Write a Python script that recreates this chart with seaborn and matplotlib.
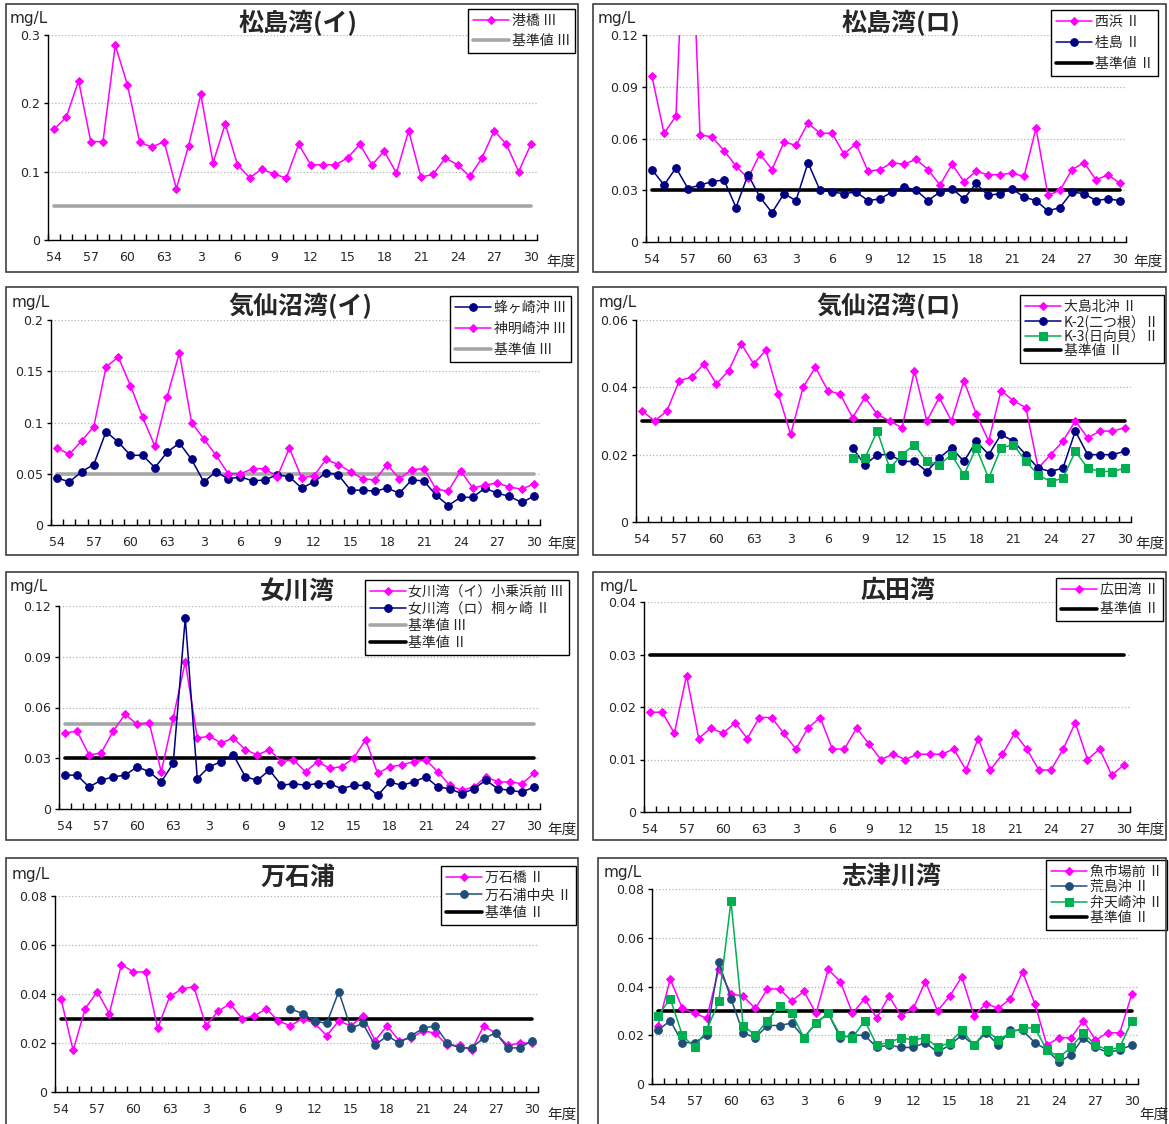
import numpy as np
import pandas as pd
import seaborn as sns
import matplotlib.pyplot as plt
from matplotlib.patches import Rectangle

W, H = 1169, 1124
N = 40
NaN = np.nan

# ------------------------------------------------------------------ data --- #
tick_labels = ["54", "57", "60", "63", "3", "6", "9", "12", "15", "18", "21", "24", "27", "30"]

# 松島湾(イ)
minatobashi = [0.162, 0.180, 0.233, 0.144, 0.144, 0.285, 0.227, 0.143, 0.136, 0.144,
               0.075, 0.138, 0.213, 0.113, 0.170, 0.110, 0.091, 0.104, 0.096, 0.091,
               0.140, 0.110, 0.110, 0.110, 0.120, 0.140, 0.110, 0.130, 0.098, 0.160,
               0.092, 0.096, 0.120, 0.110, 0.093, 0.120, 0.160, 0.140, 0.100, 0.140]

# 松島湾(ロ)
nishihama = [0.096, 0.063, 0.073, 0.240, 0.062, 0.061, 0.053, 0.044, 0.037, 0.051,
             0.042, 0.058, 0.056, 0.069, 0.063, 0.063, 0.051, 0.057, 0.041, 0.042,
             0.046, 0.045, 0.048, 0.042, 0.033, 0.045, 0.035, 0.041, 0.039, 0.039,
             0.040, 0.038, 0.066, 0.027, 0.030, 0.042, 0.046, 0.036, 0.039, 0.034]
katsurashima = [0.042, 0.033, 0.043, 0.031, 0.033, 0.035, 0.036, 0.020, 0.039, 0.026,
                0.017, 0.028, 0.024, 0.046, 0.030, 0.029, 0.028, 0.029, 0.024, 0.025,
                0.029, 0.032, 0.030, 0.024, 0.029, 0.031, 0.025, 0.034, 0.027, 0.028,
                0.031, 0.026, 0.024, 0.018, 0.020, 0.029, 0.028, 0.024, 0.025, 0.024]

# 気仙沼湾(イ)
hachigasaki = [0.046, 0.042, 0.052, 0.059, 0.091, 0.081, 0.068, 0.068, 0.056, 0.071,
               0.080, 0.064, 0.042, 0.052, 0.045, 0.047, 0.043, 0.044, 0.049, 0.047,
               0.036, 0.042, 0.051, 0.049, 0.034, 0.034, 0.033, 0.036, 0.031, 0.044,
               0.043, 0.029, 0.019, 0.027, 0.027, 0.036, 0.031, 0.028, 0.022, 0.028]
shinmeisaki = [0.075, 0.069, 0.082, 0.096, 0.154, 0.164, 0.136, 0.105, 0.077, 0.125,
               0.168, 0.100, 0.084, 0.068, 0.050, 0.050, 0.055, 0.055, 0.047, 0.075,
               0.046, 0.048, 0.064, 0.059, 0.052, 0.045, 0.044, 0.059, 0.045, 0.054,
               0.055, 0.035, 0.033, 0.053, 0.036, 0.039, 0.041, 0.037, 0.035, 0.040]

# 気仙沼湾(ロ)
oshima_kita = [0.033, 0.030, 0.033, 0.042, 0.043, 0.047, 0.041, 0.045, 0.053, 0.047,
               0.051, 0.038, 0.026, 0.040, 0.046, 0.039, 0.038, 0.031, 0.037, 0.032,
               0.030, 0.028, 0.045, 0.030, 0.037, 0.030, 0.042, 0.032, 0.024, 0.039,
               0.036, 0.034, 0.016, 0.020, 0.024, 0.030, 0.025, 0.027, 0.027, 0.028]
k2_futatsune = [NaN] * 17 + [0.022, 0.017, 0.020, 0.020, 0.018, 0.018, 0.015, 0.019, 0.022,
                             0.018, 0.024, 0.020, 0.026, 0.024, 0.020, 0.016, 0.015, 0.016,
                             0.027, 0.020, 0.020, 0.020, 0.021]
k3_hinatagai = [NaN] * 17 + [0.019, 0.019, 0.027, 0.016, 0.020, 0.023, 0.018, 0.017, 0.020,
                             0.014, 0.022, 0.013, 0.022, 0.023, 0.018, 0.014, 0.012, 0.013,
                             0.021, 0.016, 0.015, 0.015, 0.016]

# 女川湾
onagawa_i = [0.045, 0.046, 0.032, 0.033, 0.046, 0.056, 0.050, 0.051, 0.022, 0.054,
             0.087, 0.042, 0.043, 0.039, 0.042, 0.035, 0.032, 0.035, 0.028, 0.029,
             0.022, 0.028, 0.024, 0.025, 0.030, 0.041, 0.021, 0.025, 0.026, 0.028,
             0.029, 0.022, 0.014, 0.011, 0.013, 0.019, 0.016, 0.016, 0.015, 0.021]
onagawa_ro = [0.020, 0.020, 0.013, 0.017, 0.019, 0.020, 0.025, 0.022, 0.016, 0.027,
              0.113, 0.018, 0.025, 0.028, 0.032, 0.019, 0.017, 0.023, 0.014, 0.015,
              0.014, 0.015, 0.015, 0.012, 0.014, 0.014, 0.008, 0.016, 0.014, 0.016,
              0.019, 0.013, 0.012, 0.009, 0.012, 0.017, 0.012, 0.011, 0.010, 0.013]

# 広田湾
hirota = [0.019, 0.019, 0.015, 0.026, 0.014, 0.016, 0.015, 0.017, 0.014, 0.018,
          0.018, 0.015, 0.012, 0.016, 0.018, 0.012, 0.012, 0.016, 0.013, 0.010,
          0.011, 0.010, 0.011, 0.011, 0.011, 0.012, 0.008, 0.014, 0.008, 0.011,
          0.015, 0.012, 0.008, 0.008, 0.012, 0.017, 0.010, 0.012, 0.007, 0.009]

# 万石浦
mangokubashi = [0.038, 0.017, 0.034, 0.041, 0.032, 0.052, 0.049, 0.049, 0.026, 0.039,
                0.042, 0.043, 0.027, 0.033, 0.036, 0.030, 0.031, 0.034, 0.029, 0.027,
                0.030, 0.028, 0.023, 0.029, 0.027, 0.031, 0.021, 0.027, 0.021, 0.022,
                0.025, 0.024, 0.019, 0.019, 0.017, 0.027, 0.024, 0.019, 0.020, 0.020]
mangoku_center = [NaN] * 19 + [0.034, 0.032, 0.029, 0.028, 0.041, 0.026, 0.028, 0.019,
                               0.023, 0.020, 0.023, 0.026, 0.027, 0.020, 0.018, 0.018,
                               0.022, 0.024, 0.018, 0.018, 0.021]

# 志津川湾
uoichiba = [0.024, 0.043, 0.031, 0.029, 0.027, 0.047, 0.037, 0.036, 0.031, 0.039,
            0.039, 0.034, 0.038, 0.029, 0.047, 0.042, 0.029, 0.035, 0.027, 0.036,
            0.028, 0.031, 0.042, 0.030, 0.036, 0.044, 0.028, 0.033, 0.031, 0.035,
            0.046, 0.033, 0.016, 0.019, 0.019, 0.026, 0.018, 0.021, 0.021, 0.037]
arashima = [0.022, 0.026, 0.017, 0.017, 0.020, 0.050, 0.035, 0.021, 0.019, 0.024,
            0.024, 0.025, 0.019, 0.025, 0.029, 0.019, 0.020, 0.020, 0.015, 0.016,
            0.015, 0.015, 0.017, 0.013, 0.016, 0.020, 0.016, 0.021, 0.016, 0.022,
            0.022, 0.017, 0.014, 0.009, 0.012, 0.019, 0.015, 0.013, 0.014, 0.016]
bentenzaki = [0.028, 0.035, 0.020, 0.015, 0.022, 0.034, 0.075, 0.024, 0.020, 0.026,
              0.032, 0.029, 0.019, 0.025, 0.029, 0.020, 0.019, 0.026, 0.016, 0.017,
              0.019, 0.018, 0.019, 0.015, 0.017, 0.022, 0.016, 0.022, 0.018, 0.021,
              0.023, 0.023, 0.014, 0.011, 0.015, 0.021, 0.016, 0.014, 0.015, 0.026]

std_II = 0.03
std_III = 0.05

# --------------------------------------------------------------- styles --- #
MAGENTA = "#ff00ff"
NAVY = "#000080"
STEEL = "#1f4e79"
GREEN = "#00b050"
GRAY = "#a6a6a6"
BLACK = "#000000"
CJK = ["Noto Sans CJK JP", "DejaVu Sans"]

sns.set_style("white")
plt.rcParams["font.family"] = ["DejaVu Sans", "Noto Sans CJK JP"]

fig = plt.figure(figsize=(W / 100, H / 100), dpi=100)


def px_rect(x0, x1, ytop, ybot):
    return [x0 / W, 1 - ybot / H, (x1 - x0) / W, (ybot - ytop) / H]


def fxy(x, y):
    return x / W, 1 - y / H


def draw_panel(axbox, frame, title, title_xy, mgl_xy, nendo_xy, series, standards,
               ymax, ystep, leg_xy, leg_spacing):
    # panel frame
    x0, y0, x1, y1 = frame
    fig.add_artist(Rectangle(fxy(x0, y1), (x1 - x0) / W, (y1 - y0) / H,
                             transform=fig.transFigure, fill=False,
                             edgecolor="#404040", linewidth=1.2))
    ax = fig.add_axes(px_rect(*axbox))
    x = np.arange(N)
    for label, values, color, marker, ms in series:
        df = pd.DataFrame({"x": x, "y": values}).dropna()
        sns.lineplot(data=df, x="x", y="y", ax=ax, color=color, marker=marker,
                     markersize=ms, markeredgecolor=color, linewidth=1.1,
                     label=label, sort=False, estimator=None, zorder=3)
    for label, value, color in standards:
        sns.lineplot(x=[0, N - 1], y=[value, value], ax=ax, color=color,
                     linewidth=2.6, label=label, estimator=None, zorder=2)

    ax.set_xlim(-0.5, N - 0.5)
    ax.set_ylim(0, ymax)
    ax.set_xlabel("")
    ax.set_ylabel("")
    ax.set_xticks(np.arange(0, N, 3))
    ax.set_xticklabels(tick_labels)
    ax.set_xticks(np.arange(-0.5, N, 1), minor=True)
    ax.tick_params(axis="x", which="major", length=0, pad=8, labelsize=9)
    ax.tick_params(axis="x", which="minor", direction="in", length=4, width=1,
                   color="black", bottom=True)
    nt = int(round(ymax / ystep))
    yt = [round(i * ystep, 4) for i in range(nt + 1)]
    ax.set_yticks(yt)
    ax.set_yticklabels([f"{v:g}" for v in yt])
    ax.tick_params(axis="y", direction="out", length=3, width=1, color="black",
                   left=True, pad=3, labelsize=9)
    for t in yt[1:]:
        ax.axhline(t, color="#b4b4b4", linestyle=":", linewidth=0.9, zorder=1)
    for s in ["top", "right"]:
        ax.spines[s].set_visible(False)
    for s in ["left", "bottom"]:
        ax.spines[s].set_color("black")
        ax.spines[s].set_linewidth(1)

    leg = ax.legend(loc="upper right", bbox_to_anchor=fxy(*leg_xy),
                    bbox_transform=fig.transFigure,
                    prop={"family": CJK, "size": 10}, frameon=True,
                    fancybox=False, framealpha=1, edgecolor="black",
                    handlelength=2.6, handletextpad=0.2, borderpad=0.35,
                    labelspacing=leg_spacing, borderaxespad=0)
    leg.get_frame().set_linewidth(1)

    fig.text(*fxy(*title_xy), title, ha="center", va="center", fontsize=18,
             fontweight="bold", family=CJK)
    fig.text(*fxy(*mgl_xy), "mg/L", ha="left", va="center", fontsize=11)
    fig.text(*fxy(*nendo_xy), "年度", ha="center", va="center", fontsize=10.5,
             family=CJK)
    return ax


dia = ("D", 4.5)
dot = ("o", 5.5)
sq = ("s", 6)

draw_panel((48, 537, 35, 240), (6, 4, 578, 272), "松島湾(イ)", (298, 23), (10, 19), (561, 262),
           [("港橋 Ⅲ", minatobashi, MAGENTA, *dia)],
           [("基準値 Ⅲ", std_III, GRAY)], 0.3, 0.1, (575, 9), 0.45)

draw_panel((646, 1126, 35, 242), (593, 4, 1166, 272), "松島湾(ロ)", (901, 23), (598, 19), (1148, 262),
           [("西浜 Ⅱ", nishihama, MAGENTA, *dia), ("桂島 Ⅱ", katsurashima, NAVY, *dot)],
           [("基準値 Ⅱ", std_II, BLACK)], 0.12, 0.03, (1158, 10), 0.5)

draw_panel((51, 540, 320, 525), (6, 287, 578, 555), "気仙沼湾(イ)", (300, 306), (12, 302), (562, 544),
           [("蜂ヶ崎沖 Ⅲ", hachigasaki, NAVY, *dot), ("神明崎沖 Ⅲ", shinmeisaki, MAGENTA, *dia)],
           [("基準値 Ⅲ", std_III, GRAY)], 0.2, 0.05, (571, 296), 0.5)

draw_panel((636, 1131, 320, 522), (593, 287, 1166, 555), "気仙沼湾(ロ)", (888, 306), (599, 302), (1150, 544),
           [("大島北沖 Ⅱ", oshima_kita, MAGENTA, *dia), ("K-2(二つ根）Ⅱ", k2_futatsune, NAVY, *dot),
            ("K-3(日向貝）Ⅱ", k3_hinatagai, GREEN, *sq)],
           [("基準値 Ⅱ", std_II, BLACK)], 0.06, 0.02, (1164, 295), 0.02)

draw_panel((59, 540, 606, 809), (6, 572, 578, 840), "女川湾", (297, 592), (10, 587), (562, 830),
           [("女川湾（イ）小乗浜前 Ⅲ", onagawa_i, MAGENTA, *dia), ("女川湾（ロ）桐ヶ崎 Ⅱ", onagawa_ro, NAVY, *dot)],
           [("基準値 Ⅲ", std_III, GRAY), ("基準値 Ⅱ", std_II, BLACK)], 0.12, 0.03, (569, 580), 0.22)

draw_panel((644, 1130, 602, 812), (593, 572, 1166, 840), "広田湾", (898, 591), (600, 587), (1150, 830),
           [("広田湾 Ⅱ", hirota, MAGENTA, *dia)],
           [("基準値 Ⅱ", std_II, BLACK)], 0.04, 0.01, (1163, 578), 0.4)

draw_panel((55, 538, 896, 1092), (6, 858, 578, 1135), "万石浦", (298, 878), (12, 874), (562, 1115),
           [("万石橋 Ⅱ", mangokubashi, MAGENTA, *dia), ("万石浦中央 Ⅱ", mangoku_center, STEEL, *dot)],
           [("基準値 Ⅱ", std_II, BLACK)], 0.08, 0.02, (576, 866), 0.25)

draw_panel((652, 1138, 889, 1084), (598, 858, 1166, 1135), "志津川湾", (891, 877), (604, 873), (1154, 1115),
           [("魚市場前 Ⅱ", uoichiba, MAGENTA, *dia), ("荒島沖 Ⅱ", arashima, STEEL, *dot),
            ("弁天崎沖 Ⅱ", bentenzaki, GREEN, *sq)],
           [("基準値 Ⅱ", std_II, BLACK)], 0.08, 0.02, (1167, 860), 0.1)

fig.savefig("out.png", dpi=100)
